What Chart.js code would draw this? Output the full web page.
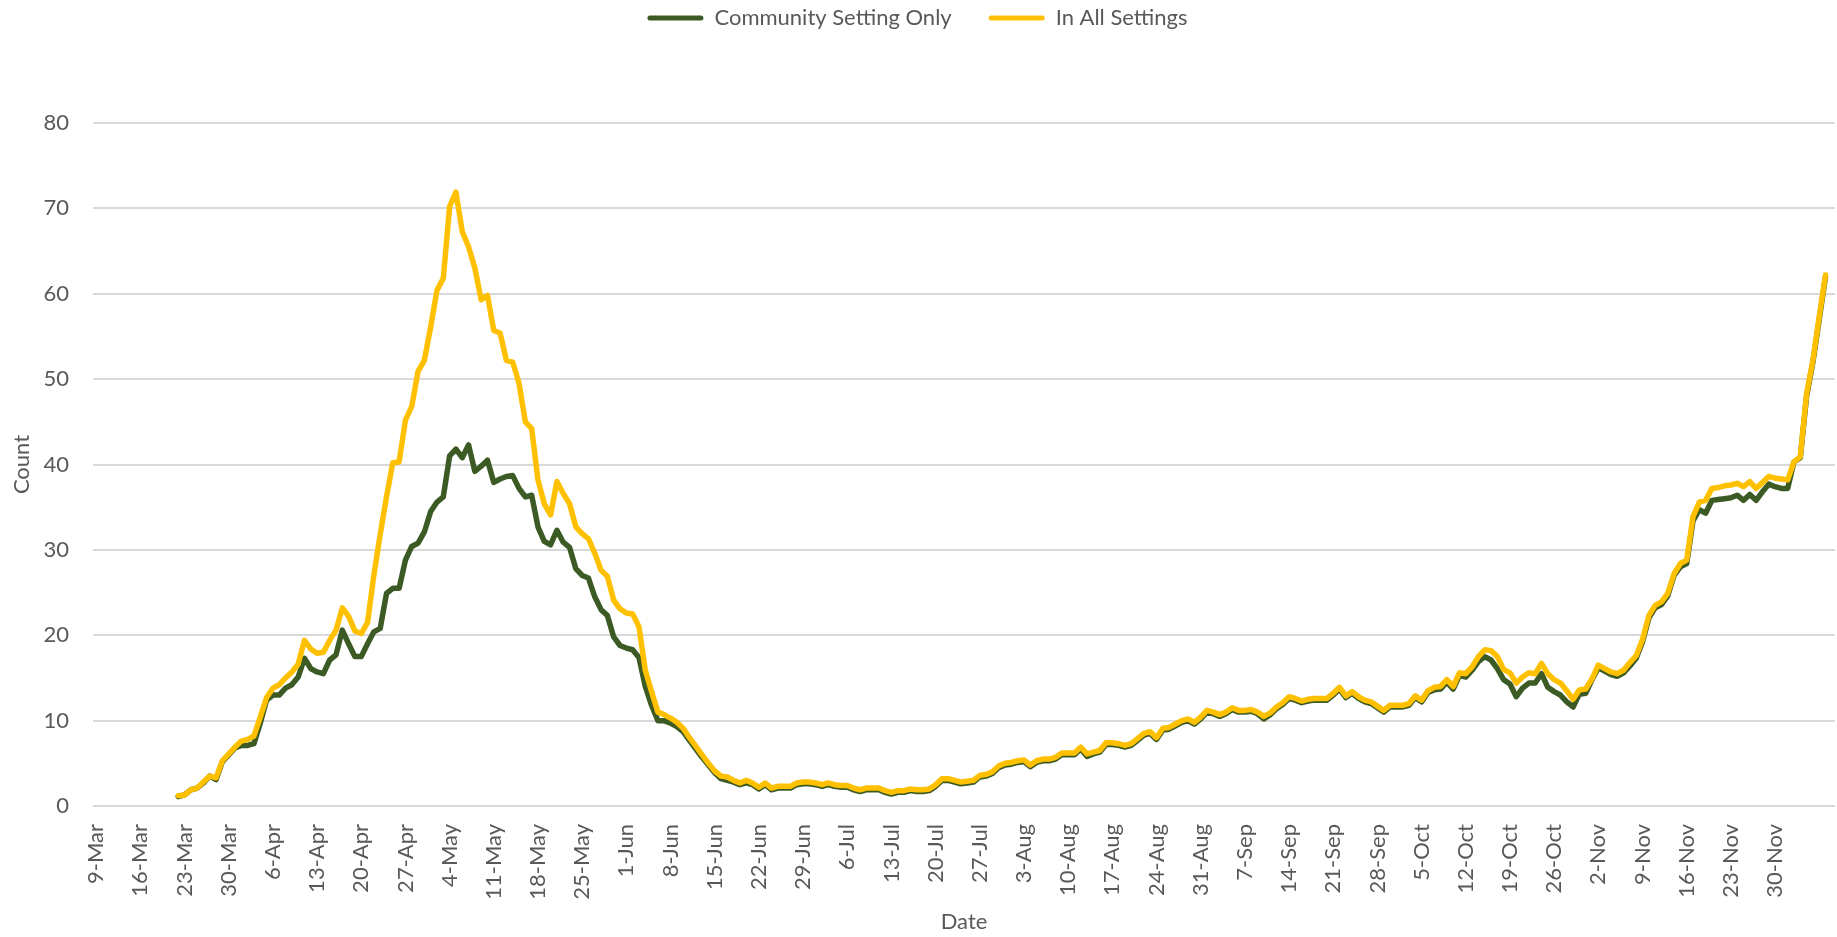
<!DOCTYPE html>
<html>
<head>
<meta charset="utf-8">
<script src="https://cdn.jsdelivr.net/npm/chart.js@4.4.1/dist/chart.umd.min.js"></script>
<style>
  html, body { margin: 0; padding: 0; background: #fff; }
  #chart { display: block; }
</style>
</head>
<body>
<canvas id="chart" width="1837" height="937"></canvas>
<script>
// daily values, one row = one week starting 9-Mar
const communityOnly = [
  null, null, null, null, null, null, null,
  null, null, null, null, null, null, 1.1,
  1.3, 1.9, 2.1, 2.7, 3.5, 3.1, 5.2,
  6.0, 6.8, 7.1, 7.1, 7.3, 9.7, 12.4,
  13.0, 13.0, 13.8, 14.2, 15.1, 17.3, 16.1,
  15.7, 15.5, 17.1, 17.7, 20.6, 19.0, 17.5,
  17.5, 19.0, 20.4, 20.8, 24.9, 25.5, 25.5,
  28.8, 30.4, 30.8, 32.1, 34.5, 35.6, 36.2,
  41.0, 41.8, 40.8, 42.3, 39.2, 39.8, 40.5,
  37.9, 38.3, 38.6, 38.7, 37.2, 36.2, 36.4,
  32.7, 31.0, 30.6, 32.3, 30.9, 30.3, 27.8,
  27.0, 26.7, 24.5, 23.0, 22.3, 19.8, 18.8,
  18.5, 18.3, 17.4, 14.0, 11.8, 10.0, 10.0,
  9.7, 9.3, 8.7, 7.7, 6.7, 5.7, 4.8,
  3.9, 3.2, 3.0, 2.8, 2.5, 2.7, 2.5,
  2.0, 2.5, 1.9, 2.1, 2.1, 2.1, 2.5,
  2.6, 2.6, 2.5, 2.3, 2.5, 2.3, 2.2,
  2.2, 1.9, 1.7, 1.9, 1.9, 1.9, 1.6,
  1.4, 1.6, 1.6, 1.8, 1.7, 1.7, 1.8,
  2.3, 3.0, 3.0, 2.8, 2.6, 2.7, 2.8,
  3.4, 3.5, 3.8, 4.5, 4.8, 4.9, 5.1,
  5.2, 4.6, 5.1, 5.3, 5.3, 5.5, 6.0,
  6.0, 6.0, 6.7, 5.8, 6.1, 6.3, 7.2,
  7.2, 7.1, 6.9, 7.1, 7.7, 8.3, 8.5,
  7.8, 8.9, 9.0, 9.4, 9.8, 10.0, 9.6,
  10.2, 11.0, 10.8, 10.5, 10.8, 11.3, 11.0,
  11.0, 11.1, 10.8, 10.2, 10.7, 11.4, 11.9,
  12.6, 12.4, 12.1, 12.3, 12.4, 12.4, 12.4,
  13.0, 13.7, 12.7, 13.2, 12.6, 12.2, 12.0,
  11.5, 11.0, 11.6, 11.6, 11.6, 11.8, 12.7,
  12.2, 13.3, 13.6, 13.7, 14.5, 13.7, 15.3,
  15.1, 15.9, 16.9, 17.5, 17.1, 16.1, 14.8,
  14.3, 12.8, 13.8, 14.4, 14.4, 15.5, 13.9,
  13.4, 13.0, 12.2, 11.6, 13.1, 13.2, 14.8,
  16.2, 15.8, 15.4, 15.2, 15.6, 16.4, 17.3,
  19.2, 22.0, 23.2, 23.6, 24.6, 27.0, 28.0,
  28.4, 33.4, 34.7, 34.3, 35.8, 35.9, 36.0,
  36.1, 36.4, 35.8, 36.5, 35.8, 36.8, 37.7,
  37.4, 37.2, 37.2, 40.3, 40.8, 48.0, 52.0,
  57.0, 62.0, null
];

const allSettings = [
  null, null, null, null, null, null, null,
  null, null, null, null, null, null, 1.2,
  1.3, 1.9, 2.1, 2.8, 3.5, 3.3, 5.3,
  6.1, 6.9, 7.6, 7.8, 8.2, 10.4, 12.7,
  13.8, 14.2, 15.0, 15.7, 16.6, 19.4, 18.4,
  17.9, 18.0, 19.4, 20.6, 23.2, 22.2, 20.5,
  20.2, 21.5, 27.0, 31.8, 36.2, 40.2, 40.3,
  45.2, 46.8, 50.9, 52.2, 56.1, 60.4, 61.8,
  70.2, 71.9, 67.3, 65.5, 63.0, 59.3, 59.8,
  55.7, 55.4, 52.2, 52.0, 49.5, 45.0, 44.2,
  38.2, 35.4, 34.1, 38.0, 36.6, 35.4, 32.7,
  31.9, 31.3, 29.6, 27.6, 26.9, 24.1, 23.1,
  22.6, 22.5, 21.0, 15.9, 13.4, 11.0, 10.7,
  10.3, 9.8, 9.1, 8.0, 7.0, 6.0, 5.0,
  4.1, 3.5, 3.4, 3.0, 2.7, 3.0, 2.7,
  2.2, 2.7, 2.1, 2.3, 2.3, 2.3, 2.7,
  2.8, 2.8, 2.7, 2.5, 2.7, 2.5, 2.4,
  2.4, 2.1, 1.9, 2.1, 2.1, 2.1, 1.8,
  1.6, 1.8, 1.8, 2.0, 1.9, 1.9, 2.0,
  2.5, 3.2, 3.2, 3.0, 2.8, 2.9, 3.0,
  3.6, 3.7, 4.0, 4.7, 5.0, 5.1, 5.3,
  5.4, 4.8, 5.3, 5.5, 5.5, 5.7, 6.2,
  6.2, 6.2, 6.9, 6.1, 6.3, 6.5, 7.4,
  7.4, 7.3, 7.1, 7.3, 7.9, 8.5, 8.7,
  8.0, 9.1, 9.2, 9.6, 10.0, 10.2, 9.8,
  10.4, 11.2, 11.0, 10.7, 11.0, 11.5, 11.2,
  11.2, 11.3, 11.0, 10.5, 10.9, 11.6, 12.1,
  12.8, 12.6, 12.3, 12.5, 12.6, 12.6, 12.6,
  13.2, 13.9, 12.9, 13.4, 12.8, 12.4, 12.2,
  11.7, 11.2, 11.8, 11.8, 11.8, 12.0, 12.9,
  12.4, 13.5, 13.9, 14.0, 14.8, 14.0, 15.6,
  15.5, 16.3, 17.5, 18.3, 18.2, 17.5, 16.0,
  15.6, 14.4, 15.1, 15.6, 15.5, 16.7, 15.5,
  14.8, 14.4, 13.5, 12.5, 13.6, 13.7, 14.9,
  16.5, 16.1, 15.7, 15.5, 15.9, 16.8, 17.6,
  19.5, 22.3, 23.5, 23.9, 24.9, 27.2, 28.4,
  28.8, 33.9, 35.6, 35.8, 37.2, 37.3, 37.5,
  37.6, 37.8, 37.4, 38.0, 37.2, 37.9, 38.6,
  38.4, 38.3, 38.2, 40.3, 40.9, 48.3, 52.2,
  57.3, 62.2, null
];

const monthNames = ['Jan', 'Feb', 'Mar', 'Apr', 'May', 'Jun', 'Jul', 'Aug', 'Sep', 'Oct', 'Nov', 'Dec'];
const weekTicks = [
  '9-Mar', '16-Mar', '23-Mar', '30-Mar', '6-Apr', '13-Apr', '20-Apr', '27-Apr',
  '4-May', '11-May', '18-May', '25-May', '1-Jun', '8-Jun', '15-Jun', '22-Jun',
  '29-Jun', '6-Jul', '13-Jul', '20-Jul', '27-Jul', '3-Aug', '10-Aug', '17-Aug',
  '24-Aug', '31-Aug', '7-Sep', '14-Sep', '21-Sep', '28-Sep', '5-Oct', '12-Oct',
  '19-Oct', '26-Oct', '2-Nov', '9-Nov', '16-Nov', '23-Nov', '30-Nov'
];
const yTicks = [0, 10, 20, 30, 40, 50, 60, 70, 80];

// one category per day from 9-Mar
const dates = [];
for (let i = 0; i < allSettings.length; i++) {
  const d = new Date(2020, 2, 9 + i);
  dates.push(`${d.getDate()}-${monthNames[d.getMonth()]}`);
}

const green = '#3b5a24';
const gold = '#ffc000';
const textColor = '#595959';
const fontFamily = 'Lato, "Open Sans", sans-serif';

// make room above the plot for the legend row
const legendSpace = {
  id: 'legendSpace',
  beforeInit(chart) {
    const fit = chart.legend.fit;
    chart.legend.fit = function () {
      fit.bind(chart.legend)();
      this.height = 153;
    };
  }
};

const ctx = document.getElementById('chart');
new Chart(ctx, {
  type: 'line',
  data: {
    labels: dates,
    datasets: [
      {
        label: 'Community Setting Only',
        data: communityOnly,
        borderColor: green,
        backgroundColor: green,
        borderWidth: 5.5,
        pointRadius: 0,
        borderJoinStyle: 'round',
        borderCapStyle: 'round',
        tension: 0,
        order: 1
      },
      {
        label: 'In All Settings',
        data: allSettings,
        borderColor: gold,
        backgroundColor: gold,
        borderWidth: 5.5,
        pointRadius: 0,
        borderJoinStyle: 'round',
        borderCapStyle: 'round',
        tension: 0,
        order: 0
      }
    ]
  },
  options: {
    responsive: false,
    animation: false,
    devicePixelRatio: 1,
    layout: { padding: { top: -30, left: 0, right: 2, bottom: 0 } },
    plugins: {
      legend: {
        position: 'top',
        labels: {
          color: textColor,
          font: { family: fontFamily, size: 22 },
          boxWidth: 56,
          boxHeight: 5,
          padding: 37,
          useBorderRadius: true,
          borderRadius: 2.5,
          sort: (a, b) => a.datasetIndex - b.datasetIndex,
          generateLabels(chart) {
            return Chart.defaults.plugins.legend.labels.generateLabels(chart)
              .map(item => Object.assign(item, { lineWidth: 0 }));
          }
        }
      },
      tooltip: { enabled: false }
    },
    scales: {
      x: {
        offset: true,
        grid: { display: false },
        border: { display: false },
        ticks: {
          autoSkip: false,
          maxRotation: 90,
          minRotation: 90,
          padding: 10,
          color: textColor,
          font: { family: fontFamily, size: 22 },
          callback(value, index) {
            return weekTicks.includes(dates[index]) ? dates[index] : null;
          }
        },
        title: {
          display: true,
          text: 'Date',
          color: textColor,
          font: { family: fontFamily, size: 22 },
          padding: { top: 0, bottom: 2 }
        },
        afterFit(scale) {
          scale.height = 131;
          scale.paddingLeft = 0;
          scale.paddingRight = 0;
        }
      },
      y: {
        min: yTicks[0],
        max: yTicks[yTicks.length - 1],
        afterBuildTicks(scale) { scale.ticks = yTicks.map(v => ({ value: v })); },
        grid: { color: '#d9d9d9', lineWidth: 2, drawTicks: false },
        border: { display: false },
        ticks: {
          padding: 24,
          color: textColor,
          font: { family: fontFamily, size: 22 }
        },
        title: {
          display: true,
          text: 'Count',
          color: textColor,
          font: { family: fontFamily, size: 22 },
          padding: { top: 9, bottom: 0 }
        },
        afterFit(scale) { scale.width = 93; }
      }
    }
  },
  plugins: [legendSpace]
});
</script>
</body>
</html>
